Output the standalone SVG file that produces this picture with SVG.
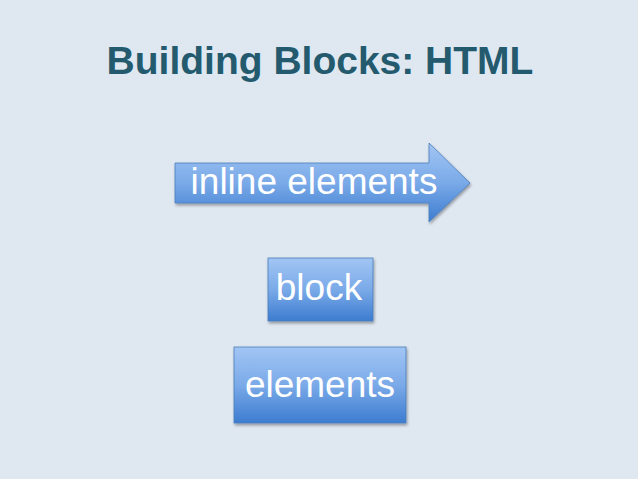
<svg xmlns="http://www.w3.org/2000/svg" width="638" height="479" viewBox="0 0 638 479">
<defs>
<linearGradient id="g" x1="0" y1="0" x2="0" y2="1">
<stop offset="0" stop-color="#a2c5f4"/>
<stop offset="0.5" stop-color="#7aaae8"/>
<stop offset="1" stop-color="#3d7cd0"/>
</linearGradient>
<filter id="sh" x="-10%" y="-10%" width="130%" height="140%">
<feGaussianBlur in="SourceAlpha" stdDeviation="1.5"/>
<feOffset dx="1" dy="2" result="b"/>
<feComponentTransfer><feFuncA type="linear" slope="0.35"/></feComponentTransfer>
<feMerge><feMergeNode/><feMergeNode in="SourceGraphic"/></feMerge>
</filter>
</defs>
<style>
.shape{fill:url(#g);stroke:#4a7ebb;stroke-width:0.8;filter:url(#sh)}
.lbl{font-family:"Liberation Sans",Arial,sans-serif;fill:#ffffff;font-size:37px}
.title{font-family:"Liberation Sans",Arial,sans-serif;font-weight:bold;fill:#245a6e;font-size:39px}
</style>
<rect width="638" height="479" fill="#dfe7f1"/>
<text class="title" x="320" y="74" text-anchor="middle">Building Blocks: HTML</text>
<g id="inline-elements">
<path class="shape" d="M175,163 L429,163 L429,143 L470,183 L429,222 L429,203 L175,203 Z"/>
<text class="lbl" x="314" y="194" text-anchor="middle">inline elements</text>
</g>
<g id="block">
<rect class="shape" x="268" y="258" width="105" height="63"/>
<text class="lbl" x="319" y="300" text-anchor="middle">block</text>
</g>
<g id="elements">
<rect class="shape" x="234" y="347" width="172" height="76"/>
<text class="lbl" x="320" y="397" text-anchor="middle">elements</text>
</g>
<g id="connectors"/>
</svg>
